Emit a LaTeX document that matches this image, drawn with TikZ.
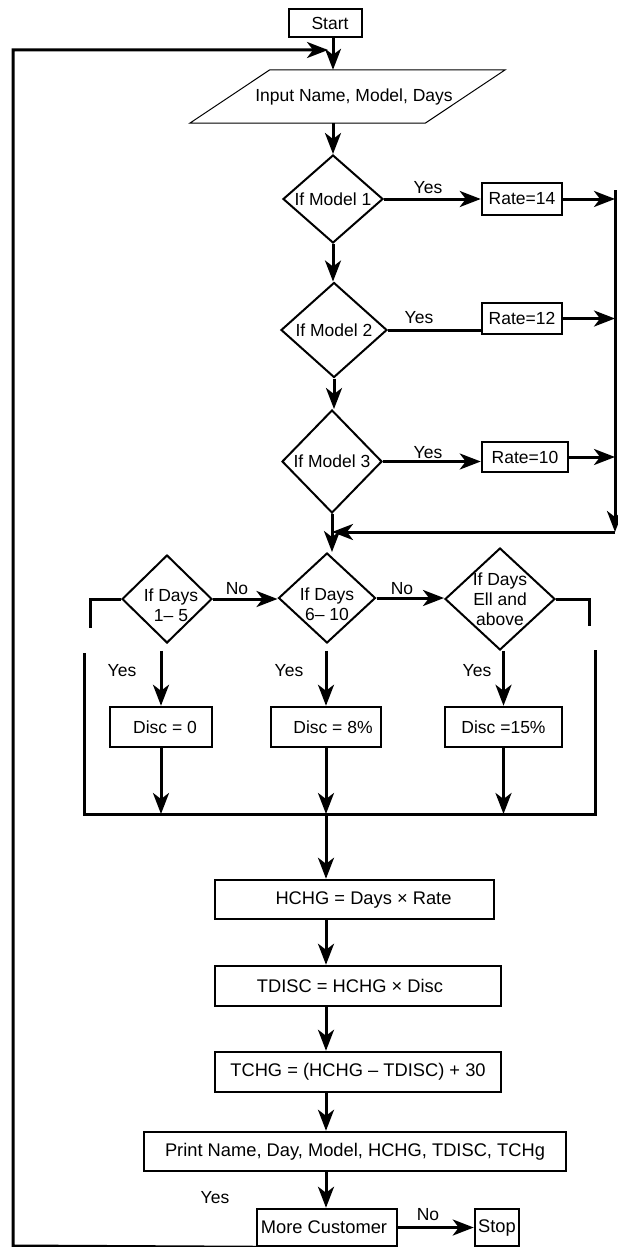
\documentclass[tikz,border=0pt]{standalone}
\usepackage{fontspec}
\setmainfont{Liberation Sans}
\usetikzlibrary{arrows.meta,shapes.geometric,calc}
\begin{document}
\begin{tikzpicture}[x=1pt,y=-1pt,
  font=\fontsize{17.5}{20}\selectfont,
  conn/.style={line width=3pt},
  arr/.style={conn,-{Stealth[length=21pt,width=16pt,inset=6pt]}},
  box/.style={draw,line width=2.5pt,inner sep=0pt,rectangle},
  bigbox/.style={box,font=\fontsize{18.3}{21}\selectfont},
  dia/.style={draw,line width=2pt,shape=diamond,inner sep=0pt},
]
\useasboundingbox (0,0) rectangle (618,1247);

% nodes
\node[box,minimum width=73pt,minimum height=28pt] (start) at (325.5,23) {\hspace*{9pt}Start};
\node[inner sep=0pt,minimum width=315pt,minimum height=53pt] (para) at (347.5,96.5) {\hspace*{13pt}Input Name, Model, Days};
\draw[line width=1pt] (para.south west) -- ($(para.north west)+(80,0)$) -- (para.north east) -- ($(para.south east)+(-80,0)$) -- cycle;

\node[dia,minimum width=100pt,minimum height=88pt,label={center:If Model 1}] (d1) at (333,199) {};
\node[box,minimum width=80pt,minimum height=32pt] (r14) at (522,199) {Rate=14};
\node[dia,minimum width=106pt,minimum height=95pt,label={center:If Model 2}] (d2) at (334,330) {};
\node[box,minimum width=80pt,minimum height=31pt] (r12) at (522,318.5) {Rate=12};
\node[dia,minimum width=100pt,minimum height=103pt,label={center:If Model 3}] (d3) at (332,461.5) {};
\node[box,minimum width=86pt,minimum height=30pt] (r10) at (525,457) {Rate=10};

\coordinate (rt) at (615,190);
\coordinate (rj) at (615,532);

\node[dia,minimum width=90pt,minimum height=88pt,label={[align=center,xshift=4pt,yshift=-6pt]center:If Days\\1– 5}] (dA) at (167,599) {};
\node[dia,minimum width=97pt,minimum height=90pt,label={[align=center,yshift=-6pt]center:If Days\\6– 10}] (dB) at (327,598) {};
\node[dia,minimum width=110pt,minimum height=102pt,label={[align=center]center:If Days\\Ell and\\above}] (dC) at (500,599) {};

\node[box,minimum width=102pt,minimum height=40pt] (discA) at (161,727) {\hspace*{8pt}Disc = 0};
\node[box,minimum width=110pt,minimum height=40pt] (discB) at (326,727) {\hspace*{14pt}Disc = 8\%};
\node[box,minimum width=117pt,minimum height=40pt] (discC) at (503.5,727) {Disc =15\%};

\coordinate (bl) at (90,628);
\coordinate (br) at (589,626);
\coordinate (ubl) at (84,653);
\coordinate (ubr) at (595,650);
\coordinate (bot) at (0,814);
\coordinate (cx) at (326,0);

\node[bigbox,minimum width=279pt,minimum height=39pt] (hchg) at (354.5,899.5) {\hspace*{18pt}HCHG = Days × Rate};
\node[bigbox,minimum width=286pt,minimum height=40pt] (tdisc) at (358,986) {TDISC = HCHG × Disc\hspace*{16pt}};
\node[bigbox,minimum width=286pt,minimum height=40pt] (tchg) at (358,1072) {TCHG = (HCHG – TDISC) + 30};
\node[bigbox,minimum width=422pt,minimum height=39pt] (print) at (355,1151.5) {Print Name, Day, Model, HCHG, TDISC, TCHg};
\node[bigbox,minimum width=140pt,minimum height=37pt] (more) at (327,1227.5) {More Customer\hspace*{6pt}};
\node[bigbox,minimum width=44pt,minimum height=37pt] (stop) at (497,1227.5) {Stop};

\coordinate (lb) at (13,1246);
\coordinate (lt) at (13,50);
\coordinate (le) at (328,50);

% labels
\node (y1) at (428,188) {Yes};
\node (y2) at (419,318) {Yes};
\node (y3) at (428,453) {Yes};
\node (n1) at (237,589) {No};
\node (n2) at (402,589) {No};
\node (yA) at (122,671) {Yes};
\node (yB) at (289,671) {Yes};
\node (yC) at (477,671) {Yes};
\node (yM) at (215,1198) {Yes};
\node (nM) at (428,1215) {No};

% connectors
\draw[arr] (start.south -| d1.north) -- (para.north -| d1.north);
\draw[arr] (more.south west) -- (lb) -- (lt) -- (le);
\draw[arr] (para.south -| d1.north) -- (d1.north);
\draw[arr] (d1.east) -- (r14.west);
\draw[arr] (r14.east) -- (r14.east -| rt);
\draw[arr] (d1.south) -- (d1.south |- d2.north);
\draw[conn] (d2.east) -- (d2.east -| r12.west);
\draw[arr] (r12.east) -- (r12.east -| rt);
\draw[arr] (d2.south) -- (d2.south |- d3.north);
\draw[arr] (d3.east) -- (d3.east -| r10.west);
\draw[arr] (r10.east) -- (r10.east -| rt);
\draw[arr] (rt) -- (rj);
\draw[arr] (rj) -- (rj -| d3.south);
\draw[arr] (d3.south) -- (d3.south |- dB.north);

\draw[arr] (dA.east) -- (dA.east -| dB.west);
\draw[arr] (dB.east) -- (dB.east -| dC.west);
\draw[conn] (dA.west) -| (bl);
\draw[conn] (dC.east) -| (br);
\draw[conn] (ubl) |- (bot -| ubr) -- (ubr);

\draw[arr] ($(discA.north)+(0,-55)$) -- (discA.north);
\draw[arr] ($(discB.north)+(0,-55)$) -- (discB.north);
\draw[arr] ($(discC.north)+(0,-55)$) -- (discC.north);
\draw[arr] (discA.south) -- (discA.south |- bot);
\draw[arr] (discB.south) -- (discB.south |- bot);
\draw[arr] (discC.south) -- (discC.south |- bot);
\draw[arr] (discB.south |- bot) -- (hchg.north -| cx);
\draw[arr] (hchg.south -| cx) -- (tdisc.north -| cx);
\draw[arr] (tdisc.south -| cx) -- (tchg.north -| cx);
\draw[arr] (tchg.south -| cx) -- (print.north -| cx);
\draw[arr] (print.south -| cx) -- (more.north -| cx);
\draw[arr] (more.east) -- (stop.west);
\end{tikzpicture}
\end{document}
